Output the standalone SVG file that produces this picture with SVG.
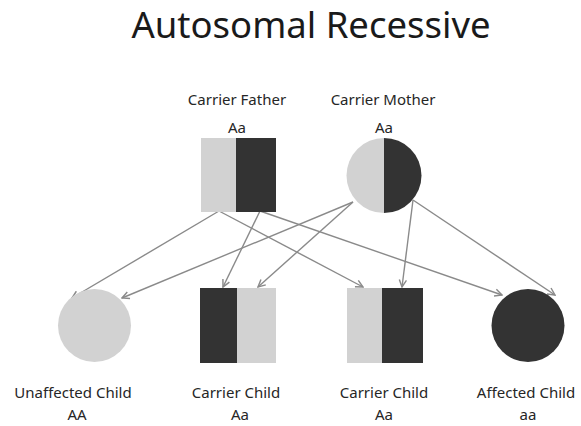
<svg xmlns="http://www.w3.org/2000/svg" width="581" height="426" viewBox="0 0 581 426">
<defs>
<style>
.t{font-family:"Noto Sans","Open Sans",sans-serif;fill:#262626;text-anchor:middle}
.lab{font-size:15px}
.title{font-size:36.5px;fill:#1a1a1a}
.lt{fill:#d2d2d2}
.dk{fill:#333333}
.c{stroke:#8a8a8a;stroke-width:1.4;fill:none;marker-end:url(#ah)}
</style>
<marker id="ah" viewBox="0 0 10 10" refX="9" refY="5" markerWidth="9" markerHeight="9" markerUnits="userSpaceOnUse" orient="auto">
<path d="M1,1 L9,5 L1,9" fill="none" stroke="#8a8a8a" stroke-width="1.6"/>
</marker>
</defs>
<rect width="581" height="426" fill="#ffffff"/>
<text class="t title" x="311" y="38">Autosomal Recessive</text>
<g id="connectors">
<line class="c" x1="219" y1="211" x2="72" y2="298"/>
<line class="c" x1="353" y1="202" x2="122" y2="298"/>
<line class="c" x1="260" y1="211" x2="223" y2="287"/>
<line class="c" x1="353" y1="202" x2="258" y2="287"/>
<line class="c" x1="219" y1="211" x2="363" y2="287"/>
<line class="c" x1="413" y1="200" x2="402" y2="287"/>
<line class="c" x1="260" y1="211" x2="502" y2="295"/>
<line class="c" x1="413" y1="200" x2="555" y2="295"/>
</g>
<g id="father">
<text class="t lab" x="237" y="105">Carrier Father</text>
<text class="t lab" x="237" y="133">Aa</text>
<rect class="lt" x="201" y="138" width="35" height="74"/>
<rect class="dk" x="236" y="138" width="40" height="74"/>
</g>
<g id="mother">
<text class="t lab" x="383" y="105">Carrier Mother</text>
<text class="t lab" x="384" y="133">Aa</text>
<path class="lt" d="M384,138 A37.5,37.5 0 0 0 384,213 Z"/>
<path class="dk" d="M384,138 A37.5,37.5 0 0 1 384,213 Z"/>
</g>
<g id="unaffected">
<circle class="lt" cx="94.5" cy="325.5" r="36.5"/>
<text class="t lab" x="73" y="398">Unaffected Child</text>
<text class="t lab" x="77" y="420">AA</text>
</g>
<g id="carrier1">
<rect class="dk" x="200" y="288" width="37" height="75"/>
<rect class="lt" x="237" y="288" width="39" height="75"/>
<text class="t lab" x="236" y="398">Carrier Child</text>
<text class="t lab" x="240" y="420">Aa</text>
</g>
<g id="carrier2">
<rect class="lt" x="347" y="288" width="35" height="75"/>
<rect class="dk" x="382" y="288" width="41" height="75"/>
<text class="t lab" x="384" y="398">Carrier Child</text>
<text class="t lab" x="384" y="420">Aa</text>
</g>
<g id="affected">
<circle class="dk" cx="528" cy="325.5" r="36.5"/>
<text class="t lab" x="526" y="398">Affected Child</text>
<text class="t lab" x="528" y="420">aa</text>
</g>
</svg>
